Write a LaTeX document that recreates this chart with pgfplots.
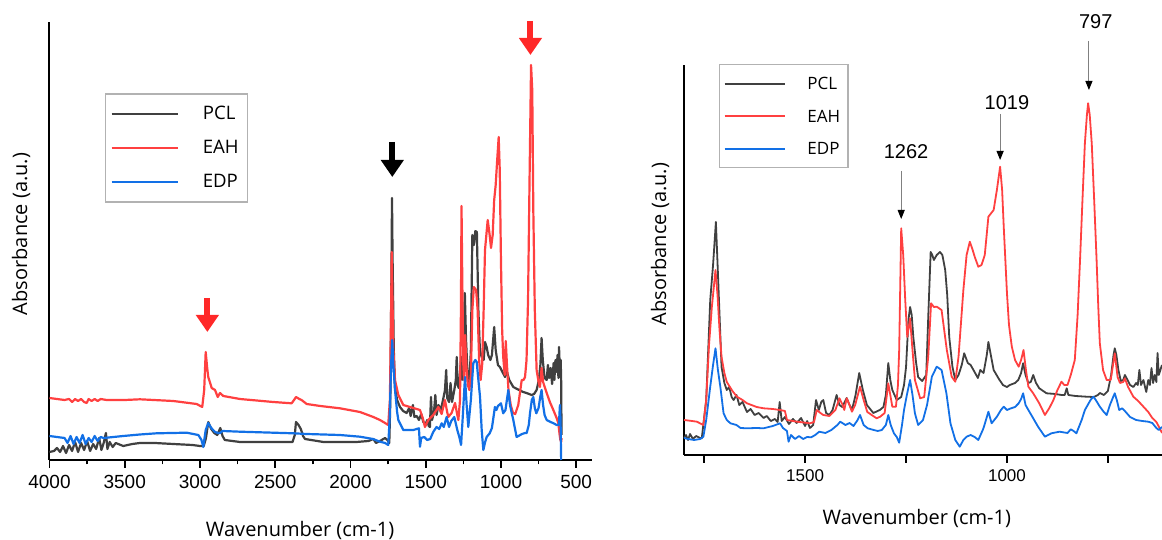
\documentclass[border=0pt]{standalone}
\usepackage{fontspec}
\setmainfont{Open Sans}
\newfontfamily\lib{Liberation Sans}
\usepackage{pgfplots}
\pgfplotsset{compat=1.18}
\usetikzlibrary{arrows.meta}

\definecolor{pcl}{RGB}{64,64,64}
\definecolor{eah}{RGB}{255,64,64}
\definecolor{edp}{RGB}{18,112,230}
\definecolor{arrred}{RGB}{255,40,40}

\pgfplotsset{
  ftir/.style={
    scale only axis,
    axis x line*=bottom, axis y line*=left,
    x dir=reverse, ymin=0,
    ytick=\empty, tick align=outside, xtick pos=bottom,
    axis line style={line width=1pt, black},
    tick style={black, line width=0.8pt},
    /pgf/number format/1000 sep={},
    /pgf/number format/assume math mode=true,
    clip=false, no marks, legend cell align=left,
  },
}

\begin{document}
\begin{tikzpicture}
\path[use as bounding box] (0,0) rectangle (581pt,270pt);

% ---------------- left panel: full spectrum
\begin{axis}[ftir,
  at={(24.75pt,40pt)}, width=271.25pt, height=219pt,
  xmin=395, xmax=4000, ymax=438,
  xtick={500,1000,...,4000}, minor xtick={750,1250,...,3750},
  major tick length=4pt, minor tick length=2.2pt,
  tick label style={font=\lib\fontsize{9.5}{11}\selectfont},
  xlabel={Wavenumber (cm-1)}, ylabel={Absorbance (a.u.)},
  label style={font=\fontsize{8.7}{10}\selectfont},
  every axis x label/.style={at={(axis description cs:0.462,-0.162)}, anchor=center},
  every axis y label/.style={at={(axis description cs:-0.0525,0.516)}, anchor=center, rotate=90},
  every axis plot/.append style={line width=1.1pt, line join=round},
  legend image code/.code={\draw[#1] (0pt,0pt) -- (33pt,0pt);},
  legend style={at={(axis description cs:0.102,0.838)}, anchor=north west,
    draw=gray!60, line width=0.8pt, inner xsep=2.5pt, inner ysep=4pt,
    row sep=5pt, font=\fontsize{9.3}{10}\selectfont,
    nodes={inner ysep=2pt, text height=7pt, text depth=1pt},
    /tikz/every odd column/.style={column sep=10pt}},
]
% PCL
\addplot[pcl] coordinates {
(4000,8) (3970,9) (3950,12) (3930,8) (3910,14) (3890,7) (3870,15) (3850,9)
(3830,18) (3810,8) (3790,17) (3770,10) (3750,19) (3730,9) (3710,16) (3690,11)
(3670,22) (3655,10) (3640,17) (3625,27) (3615,11) (3600,18) (3580,13) (3560,17)
(3510,14) (3450,16) (3399,17) (3300,17) (3177,16) (3050,15) (3000,14) (2975,14)
(2960,22) (2945,38) (2925,31) (2905,27) (2885,25) (2865,32) (2850,24) (2835,20)
(2734,18) (2513,18) (2385,18) (2370,25) (2362,38) (2345,35) (2330,31) (2315,24)
(2302,21) (2180,18) (1960,18) (1880,19) (1848,21) (1830,17) (1804,19) (1770,22)
(1755,20) (1742,17) (1735,60) (1727,200) (1724,262) (1720,200) (1712,110) (1704,72)
(1690,60) (1671,53) (1650,49) (1627,47) (1610,52) (1600,44) (1585,55) (1575,43)
(1560,44) (1545,40) (1530,46) (1516,38) (1500,36) (1490,40) (1480,34) (1472,33)
(1465,63) (1458,40) (1445,48) (1436,65) (1428,45) (1415,55) (1400,50) (1385,60)
(1372,70) (1364,90) (1357,62) (1345,58) (1335,77) (1325,58) (1310,70) (1300,80)
(1294,103) (1288,75) (1280,72) (1272,85) (1265,103) (1258,80) (1250,110) (1240,167)
(1232,120) (1220,80) (1210,75) (1200,110) (1190,225) (1180,215) (1170,229) (1160,228)
(1150,150) (1140,110) (1128,103) (1115,100) (1106,118) (1095,113) (1085,105) (1070,100)
(1060,105) (1045,133) (1035,110) (1020,95) (1007,93) (990,88) (973,83) (960,88)
(945,80) (918,73) (880,70) (852,68) (830,67) (796,65) (780,66) (763,70)
(748,80) (738,95) (730,122) (722,100) (710,82) (696,80) (688,95) (680,82)
(670,92) (660,76) (650,97) (645,80) (638,100) (630,88) (624,105) (618,82)
(614,113) (608,86) (603,100) (600,80) (598,40) (597,25)
};
\addlegendentry{PCL\hspace{9pt}}
% EAH
\addplot[eah] coordinates {
(4000,62) (3950,61) (3900,60) (3870,61) (3850,58) (3830,61) (3810,59) (3790,61)
(3770,58) (3753,57) (3740,61) (3720,59) (3700,61) (3680,59) (3660,61) (3620,60)
(3500,60) (3399,60.7) (3177,59) (3022,56) (2985,53) (2972,70) (2962,108) (2952,92)
(2945,83) (2922,72) (2900,70) (2882,63) (2867,67) (2845,64) (2734,61) (2513,58)
(2391,56.7) (2375,60) (2362,63) (2340,61) (2325,60) (2291,56) (2200,54) (2070,51.7)
(1937,48) (1848,43) (1804,40) (1770,37) (1749,35) (1738,60) (1730,150) (1726,208)
(1722,170) (1715,110) (1704,80) (1682,65) (1649,55) (1582,52) (1538,50) (1520,42)
(1505,33) (1483,40) (1450,45) (1428,50) (1416,53) (1394,46) (1372,60) (1360,50)
(1350,43) (1328,47) (1305,57) (1290,45) (1283,40) (1272,60) (1266,150) (1262,254)
(1257,180) (1250,95) (1245,80) (1238,125) (1230,95) (1220,75) (1210,70) (1200,85)
(1190,150) (1180,173) (1165,170) (1155,150) (1145,100) (1135,80) (1125,95) (1115,150)
(1106,210) (1088,240) (1075,225) (1066,212) (1055,225) (1045,260) (1035,275) (1025,300)
(1015,323) (1008,290) (1000,200) (992,130) (985,103) (975,85) (968,119) (960,95)
(950,70) (935,55) (920,47) (905,46) (885,55) (862,80) (850,80) (840,83)
(830,100) (820,160) (810,280) (800,395) (792,370) (785,250) (775,150) (763,90)
(750,78) (741,73) (730,92) (720,78) (696,67) (675,58) (652,50) (630,42)
(619,37) (610,25) (605,20) (600,18) (597,22)
};
\addlegendentry{EAH}
% EDP
\addplot[edp] coordinates {
(4000,24) (3950,23) (3900,22) (3880,17) (3860,24) (3840,16) (3820,23) (3800,17)
(3780,25) (3760,16) (3740,22) (3720,18) (3700,24) (3680,19) (3660,23) (3640,22)
(3510,24) (3400,25.5) (3288,26.7) (3088,27.3) (3011,25) (2990,20) (2978,13) (2962,30)
(2945,37) (2925,32) (2900,28) (2880,27) (2867,27) (2850,29) (2734,28.3) (2513,27.3)
(2380,26.7) (2290,26) (2070,25) (1937,23.3) (1850,21) (1804,18.3) (1770,17) (1749,15)
(1740,40) (1730,95) (1722,120) (1715,95) (1704,70) (1690,48) (1682,40) (1649,30)
(1582,30) (1545,31.7) (1538,13.3) (1530,22) (1510,23) (1490,20) (1470,21) (1450,28)
(1428,33) (1410,31) (1394,36.7) (1380,33) (1361,43) (1345,33) (1330,39) (1310,43)
(1290,30) (1275,22) (1265,15) (1255,40) (1239,83) (1228,55) (1217,33) (1200,60)
(1184,96.7) (1170,100) (1161,98) (1150,80) (1139,63) (1128,30) (1117,10) (1105,18)
(1095,23) (1075,26.7) (1060,32) (1040,53) (1030,50) (1020,54) (1000,56.7) (985,46.7)
(970,50) (951,70) (940,55) (918,40) (896,23) (860,26) (840,27) (829,27)
(815,35) (807,46.7) (795,60) (785,63) (775,52) (765,46.7) (750,52) (740,62)
(730,70) (720,55) (710,45) (696,40) (670,38) (650,36.7) (630,35) (615,35)
(608,55) (604,40) (600,0)
};
\addlegendentry{EDP}

\draw[arrred, line width=3pt, -{Triangle[width=11pt,length=8.5pt]}]
  (axis cs:2951,162) -- (axis cs:2951,128);
\draw[black, line width=3pt, -{Triangle[width=11pt,length=8.5pt]}]
  (axis cs:1722,318) -- (axis cs:1722,283);
\draw[arrred, line width=3pt, -{Triangle[width=11pt,length=8.5pt]}]
  (axis cs:804,439) -- (axis cs:804,405);
\end{axis}

% ---------------- right panel: fingerprint region
\begin{axis}[ftir,
  at={(342pt,42.5pt)}, width=239pt, height=195pt,
  xmin=616, xmax=1800, ymax=390,
  xtick={1000,1500}, minor xtick={750,1250,1750},
  major tick length=4pt, minor tick length=4pt,
  tick label style={font=\lib\fontsize{8.5}{10}\selectfont},
  xlabel={Wavenumber (cm-1)}, ylabel={Absorbance (a.u.)},
  label style={font=\fontsize{8.2}{10}\selectfont},
  every axis x label/.style={at={(axis description cs:0.487,-0.164)}, anchor=center},
  every axis y label/.style={at={(axis description cs:-0.050,0.541)}, anchor=center, rotate=90},
  every axis plot/.append style={line width=0.9pt, line join=round},
  legend image code/.code={\draw[#1] (0pt,0pt) -- (30pt,0pt);},
  legend style={at={(axis description cs:0.073,1.003)}, anchor=north west,
    draw=gray!60, line width=0.8pt, inner xsep=2pt, inner ysep=3.5pt,
    row sep=4.25pt, font=\fontsize{8.5}{10}\selectfont,
    nodes={inner ysep=2pt, text height=7pt, text depth=1pt},
    /tikz/every odd column/.style={column sep=9pt}},
]
% PCL
\addplot[pcl] coordinates {
(1800,17) (1795,20) (1790,15) (1785,21) (1778,16) (1770,19) (1760,17) (1756,16.7)
(1745,55) (1735,155) (1728,190) (1721,233) (1715,172) (1707,88) (1700,72) (1694,65)
(1688,68) (1682,58) (1677,55) (1670,60) (1663,50) (1655,53) (1644,43) (1635,46)
(1625,40) (1615,42) (1603,37) (1595,39) (1585,34) (1575,36) (1568,33) (1563,53)
(1558,34) (1550,38) (1540,31) (1530,36) (1521,32) (1510,37) (1500,29) (1495,34)
(1488,27) (1480,30) (1473,55) (1466,45) (1460,53) (1455,55) (1448,42) (1440,40)
(1432,45) (1422,60) (1415,50) (1408,48) (1397,57) (1390,50) (1384,45) (1375,60)
(1366,82) (1357,65) (1347,50) (1331,42) (1315,45) (1306,48) (1300,60) (1294,92)
(1289,75) (1284,65) (1273,55) (1262,58) (1255,70) (1250,88) (1244,135) (1240,148)
(1236,140) (1232,118) (1225,92) (1220,78) (1210,74) (1200,80) (1195,138) (1189,203)
(1185,200) (1181,195) (1174,200) (1166,203) (1160,200) (1153,185) (1148,160) (1143,118)
(1135,88) (1128,75) (1120,80) (1112,90) (1106,101.7) (1097,92) (1090,90) (1083,85)
(1072,77) (1066,85) (1058,82) (1050,100) (1046,113) (1040,100) (1033,85) (1020,76)
(1010,70) (1000,68) (993,70) (980,72) (972,75) (965,82) (960,91.7) (954,80)
(947,72) (941,73) (935,80) (928,72) (920,66.7) (902,61.7) (880,61) (865,60)
(857,60) (852,66.7) (848,60) (830,59) (803,58.3) (785,58) (775,60) (770,62)
(760,60) (750,64) (742,80) (736,100) (733,106.7) (729,100) (724,85) (718,74)
(712,75) (708,80) (700,74) (695,70) (687,68) (680,72) (676,70) (672,85)
(668,70) (662,75) (658,68) (655,63) (650,75) (646,70) (642,87) (638,72)
(634,80) (630,73) (627,102) (624,80) (620,85) (616,90)
};
\addlegendentry{PCL\hspace{8pt}}
% EAH
\addplot[eah] coordinates {
(1800,35) (1780,34) (1768,33.3) (1752,30) (1745,55) (1738,110) (1731,148) (1722,185)
(1717,160) (1712,125) (1707,98) (1700,82) (1694,73) (1680,64) (1669,58.3) (1655,55)
(1644,51.7) (1620,48) (1603,46.7) (1580,46) (1562,45) (1550,44) (1545,35) (1520,33.3)
(1488,31.7) (1478,33) (1471,45) (1462,42) (1455,40) (1440,39) (1425,45) (1415,56.7)
(1407,50) (1403,45) (1397,56.7) (1390,50) (1384,43.3) (1376,50) (1364,68.3) (1355,55)
(1346,43) (1335,40) (1323,36.7) (1314,38.3) (1303,42) (1294,71.7) (1289,60) (1284,48.3)
(1275,48.3) (1270,70) (1267,105) (1262,226.7) (1257,200) (1252,155) (1247,118) (1240,136.7)
(1235,110) (1228,75) (1215,56.7) (1205,58) (1195,98.3) (1188,151.7) (1181,148) (1174,148.3)
(1162,145) (1149,105) (1137,78.3) (1128,73.3) (1120,98.3) (1108,165) (1100,200) (1092,213.3)
(1085,205) (1080,198.3) (1071,188.3) (1063,190) (1055,200) (1046,238.3) (1033,245) (1025,265)
(1017,288.3) (1012,265) (1008,228.3) (1000,161.7) (995,130) (988,108.3) (980,95) (971,88.3)
(965,95) (959,105) (953,85) (947,68.3) (935,61.7) (920,51.7) (906,40) (895,47)
(885,55) (875,65) (865,73.3) (858,70) (850,70) (842,80) (832,95) (825,140)
(819,195) (813,255) (807,311.7) (802,340) (799,351.7) (795,340) (790,311.7) (784,255)
(778,195) (774,150) (770,111.7) (762,85) (753,75) (743,75) (733,101.7) (726,78)
(720,72) (712,73) (708,76.7) (700,68) (687,58.3) (675,54) (662,48.3) (650,43)
(640,37) (630,33) (622,27) (616,22)
};
\addlegendentry{EAH}
% EDP
\addplot[edp] coordinates {
(1800,17) (1790,16) (1775,15) (1760,16) (1752,18.3) (1745,35) (1735,68.3) (1728,90)
(1722,106.7) (1716,85) (1710,68.3) (1702,41.7) (1694,35) (1685,31.7) (1670,30) (1660,27)
(1644,26.7) (1620,27) (1603,26.7) (1580,29) (1562,31.7) (1555,27) (1545,24) (1541,13.3)
(1535,20) (1525,16) (1515,19) (1505,16) (1495,18) (1485,17.7) (1475,20) (1465,23.3)
(1450,22) (1435,25) (1420,30) (1413,33.3) (1400,30) (1390,32) (1380,29) (1370,35)
(1364,40) (1355,30) (1345,26.7) (1330,25) (1320,24) (1310,25) (1300,30) (1294,40)
(1288,30) (1280,21.7) (1273,18) (1267,12.3) (1260,30) (1255,45) (1248,60) (1240,75)
(1234,60) (1228,41.7) (1220,30) (1208,35) (1198,50) (1186,78.3) (1174,88.3) (1162,85)
(1150,61.7) (1140,31.7) (1128,15) (1117,8.3) (1108,15) (1100,18.3) (1090,20) (1080,18)
(1071,15) (1060,25) (1057,28.3) (1046,43.3) (1038,31.7) (1025,38.3) (1015,45) (1008,48.3)
(1000,45) (990,46.7) (980,48) (971,51.7) (965,56) (960,61.7) (954,50) (947,45)
(935,36.7) (923,28.3) (906,18.3) (890,21.7) (870,23.3) (850,22) (842,25.7) (835,24)
(828,21.7) (815,35) (807,45) (800,50) (793,55) (786,58.3) (780,55) (770,48.3)
(760,43) (753,40) (745,50) (737,58) (733,61.7) (728,55) (722,45) (715,46.7)
(708,44) (695,38) (680,35) (665,34) (650,33.3) (640,32) (630,27) (624,25)
(616,28)
};
\addlegendentry{EDP}

\draw[gray, line width=0.5pt, -{Triangle[width=3.5pt,length=4.5pt,color=black]}]
  (axis cs:1262,284) -- (axis cs:1262,236);
\draw[gray, line width=0.5pt, -{Triangle[width=3.5pt,length=4.5pt,color=black]}]
  (axis cs:1017,341) -- (axis cs:1017,295);
\draw[gray, line width=0.5pt, -{Triangle[width=3.5pt,length=4.5pt,color=black]}]
  (axis cs:797,414) -- (axis cs:797,365);
\node[font=\lib\fontsize{10}{12}\selectfont] at (axis cs:1250,303) {1262};
\node[font=\lib\fontsize{10}{12}\selectfont] at (axis cs:1000,352) {1019};
\node[font=\lib\fontsize{10}{12}\selectfont] at (axis cs:780,433) {797};
\end{axis}
\end{tikzpicture}
\end{document}
